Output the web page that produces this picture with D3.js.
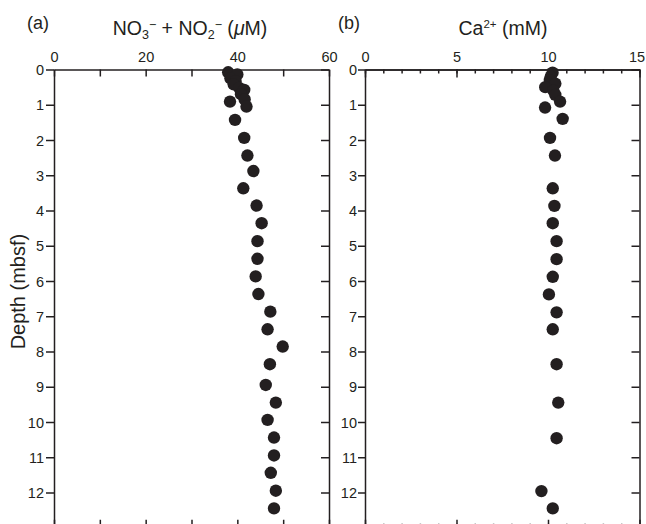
<!DOCTYPE html>
<html><head><meta charset="utf-8">
<script src="https://cdn.jsdelivr.net/npm/d3@7"></script>
<style>
body{margin:0;background:#fff;}
svg{display:block;font-family:"Liberation Sans",Arial,Helvetica,sans-serif;}
.axis path,.axis line{stroke:#231f20;stroke-width:1.5;}
.axis text{fill:#231f20;font-size:14.5px;font-family:"Liberation Sans",Arial,sans-serif;}
</style></head>
<body>
<svg id="c" width="646" height="524"></svg>
<script>
// Depth (mbsf) and values
const depthA = [0.08,0.14,0.25,0.33,0.42,0.52,0.58,0.70,0.85,0.91,1.05,1.43,1.94,2.44,2.88,3.37,3.86,4.36,4.87,5.37,5.87,6.37,6.87,7.37,7.86,8.36,8.95,9.45,9.94,10.44,10.95,11.44,11.95,12.45];
const no3no2 = [38.0,40.0,38.5,39.6,39.2,40.4,41.5,40.8,41.6,38.4,42.0,39.5,41.5,42.2,43.5,41.3,44.2,45.3,44.4,44.4,44.0,44.6,47.2,46.6,49.9,47.1,46.2,48.4,46.6,48.0,48.0,47.3,48.4,48.0];
const depthB = [0.09,0.20,0.30,0.40,0.50,0.60,0.72,0.91,1.08,1.40,1.94,2.44,3.37,3.87,4.36,4.87,5.38,5.88,6.38,6.89,7.37,8.36,9.45,10.46,11.96,12.45];
const ca = [10.25,10.15,10.1,10.4,9.85,10.3,10.4,10.66,9.84,10.8,10.11,10.38,10.26,10.35,10.26,10.47,10.47,10.26,10.05,10.47,10.26,10.47,10.56,10.47,9.64,10.26];
const depthTicks = [0,1,2,3,4,5,6,7,8,9,10,11,12];
const xTicksA = [0,10,20,30,40,50,60];
const xLabelsA = [0,20,40,60];
const xMinorB = d3.range(0,16,1);
const xMajorB = [0,5,10,15];

const svg = d3.select("#c");
const y = d3.scaleLinear().domain([0,13]).range([69.5,527.75]);
const xA = d3.scaleLinear().domain([0,60]).range([54,329]);
const xB = d3.scaleLinear().domain([0,15]).range([365,639.5]);
const ink = "#231f20";

function panel(x, xTickDraw, labelRightPad, tickLeft){
  const g = svg.append("g");
  xTickDraw(g);
  const [x0,x1] = x.range();
  g.append("g").attr("class","axis").attr("transform",`translate(${x0},0)`)
    .call(d3.axisLeft(y).tickValues(depthTicks).tickSize(tickLeft).tickSizeOuter(0).tickPadding(labelRightPad))
    .call(a=>a.selectAll("text").attr("dy","0.36em"));
  g.append("g").attr("class","axis").attr("transform",`translate(${x1},0)`)
    .call(d3.axisRight(y).tickValues(depthTicks).tickSize(-8).tickSizeOuter(0).tickFormat(""));
  return g;
}

const gA = panel(xA, g=>{
  g.append("g").attr("class","axis").attr("transform",`translate(0,${y(0)})`)
    .call(d3.axisTop(xA).tickValues(xTicksA).tickSize(-7).tickSizeOuter(0).tickPadding(7.5)
      .tickFormat(d=>xLabelsA.includes(d)?d:""));
  g.append("g").attr("class","axis").attr("transform",`translate(0,${y(13)})`)
    .call(d3.axisBottom(xA).tickValues(xTicksA).tickSize(-8).tickSizeOuter(0).tickFormat(""));
}, 2, 8);

const gB = panel(xB, g=>{
  g.append("g").attr("class","axis").attr("transform",`translate(0,${y(0)})`)
    .call(d3.axisTop(xB).tickValues(xMinorB).tickSize(-4).tickSizeOuter(0).tickFormat(""));
  g.append("g").attr("class","axis").attr("transform",`translate(0,${y(0)})`)
    .call(d3.axisTop(xB).tickValues(xMajorB).tickSize(-8).tickSizeOuter(0).tickPadding(7.5))
    .call(a=>a.selectAll("text").filter(d=>d===15).attr("dx","-3"));
  g.append("g").attr("class","axis").attr("transform",`translate(0,${y(13)})`)
    .call(d3.axisBottom(xB).tickValues(xMinorB).tickSize(-4).tickSizeOuter(0).tickFormat(""));
  g.append("g").attr("class","axis").attr("transform",`translate(0,${y(13)})`)
    .call(d3.axisBottom(xB).tickValues(xMajorB).tickSize(-8).tickSizeOuter(0).tickFormat(""));
}, 1, 7);

gA.selectAll("circle").data(depthA.map((d,i)=>({d, v:no3no2[i]}))).join("circle")
  .attr("cx",p=>xA(p.v)).attr("cy",p=>y(p.d)).attr("r",6.2).attr("fill",ink);
gB.selectAll("circle").data(depthB.map((d,i)=>({d, v:ca[i]}))).join("circle")
  .attr("cx",p=>xB(p.v)).attr("cy",p=>y(p.d)).attr("r",6.2).attr("fill",ink);

const tA = svg.append("text").attr("x",190).attr("y",35).attr("text-anchor","middle")
  .attr("font-size",19.5).attr("fill",ink);
tA.append("tspan").text("NO");
tA.append("tspan").attr("font-size",12.5).attr("dy",4).text("3");
tA.append("tspan").attr("font-size",12.5).attr("dy",-10).text("−");
tA.append("tspan").attr("dy",6).text(" + NO");
tA.append("tspan").attr("font-size",12.5).attr("dy",4).text("2");
tA.append("tspan").attr("font-size",12.5).attr("dy",-10).text("−");
tA.append("tspan").attr("dy",6).text(" (");
tA.append("tspan").attr("font-style","italic").text("μ");
tA.append("tspan").text("M)");

const tB = svg.append("text").attr("x",503).attr("y",35).attr("text-anchor","middle")
  .attr("font-size",19.5).attr("fill",ink);
tB.append("tspan").text("Ca");
tB.append("tspan").attr("font-size",11.5).attr("dy",-7).text("2+");
tB.append("tspan").attr("dy",7).text(" (mM)");

svg.append("text").attr("x",27).attr("y",29).attr("font-size",18).attr("fill",ink).text("(a)");
svg.append("text").attr("x",338).attr("y",29).attr("font-size",18).attr("fill",ink).text("(b)");

svg.append("text").attr("transform",`translate(25,${y(6.3)}) rotate(-90)`)
  .attr("text-anchor","middle").attr("font-size",20).attr("fill",ink).text("Depth (mbsf)");
</script>
</body></html>
